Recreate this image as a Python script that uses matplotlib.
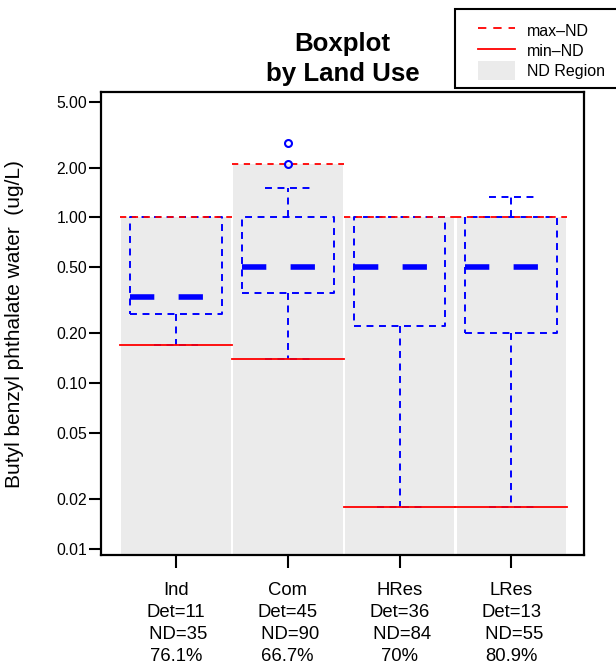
import matplotlib
matplotlib.use("Agg")
import matplotlib.pyplot as plt
from matplotlib.lines import Line2D
from matplotlib.patches import Patch, Rectangle

plt.rcParams['font.family'] = ['Liberation Sans', 'DejaVu Sans']
plt.rcParams['lines.scale_dashes'] = False

# ---- data ----
categories = ["Ind", "Com", "HRes", "LRes"]
det_counts = [11, 45, 36, 13]
nd_counts = [35, 90, 84, 55]
nd_pct = ["76.1%", "66.7%", "70%", "80.9%"]
max_nd = [1.0, 2.1, 1.0, 1.0]
min_nd = [0.17, 0.14, 0.018, 0.018]
q1 = [0.26, 0.35, 0.22, 0.20]
median = [0.33, 0.50, 0.50, 0.50]
q3 = [1.0, 1.0, 1.0, 1.0]
whisker_lo = [0.17, 0.14, 0.018, 0.018]
whisker_hi = [1.0, 1.5, 1.0, 1.33]
outliers = [[], [2.1, 2.8], [], []]
ytick_vals = [0.01, 0.02, 0.05, 0.10, 0.20, 0.50, 1.00, 2.00, 5.00]
ytick_labels = ["0.01", "0.02", "0.05", "0.10", "0.20", "0.50", "1.00", "2.00", "5.00"]

BLUE = "#0000FF"
RED = "#FF0000"
GREY = "#EBEBEB"

W, H = 616, 672
fig = plt.figure(figsize=(W / 100, H / 100), dpi=100)
ax = fig.add_axes([101 / W, 1 - 555 / H, (584 - 101) / W, (555 - 92.5) / H])
ax.set_yscale('log')
ax.set_ylim(0.0092, 5.67)
ax.set_xlim(0.33, 4.65)

pos = list(range(1, len(categories) + 1))

# ND region bars
ax.bar(pos, [m - 0.001 for m in max_nd], bottom=0.001, width=0.98,
       color=GREY, edgecolor='none', zorder=1)

box_half = 0.41
cap_half = 0.2
box_dash = (5.0, 4.0)
for x, a, m, b, lo, hi in zip(pos, q1, median, q3, whisker_lo, whisker_hi):
    ax.plot([x - box_half, x + box_half, x + box_half, x - box_half, x - box_half],
            [a, a, b, b, a], color=BLUE, lw=1.4, linestyle=(0, box_dash),
            dash_capstyle='butt', zorder=3)
    ax.plot([x - box_half, x + box_half], [m, m], color=BLUE, lw=4.0,
            linestyle=(0, (17.5, 17.5)), dash_capstyle='butt', zorder=4)
    if lo < a:
        ax.plot([x, x], [a, lo], color=BLUE, lw=1.4, linestyle=(0, box_dash),
                dash_capstyle='butt', zorder=3)
        ax.plot([x - cap_half, x + cap_half], [lo, lo], color=BLUE, lw=1.4,
                linestyle=(0, box_dash), dash_capstyle='butt', zorder=3)
    if hi > b:
        ax.plot([x, x], [b, hi], color=BLUE, lw=1.4, linestyle=(0, box_dash),
                dash_capstyle='butt', zorder=3)
        ax.plot([x - cap_half, x + cap_half], [hi, hi], color=BLUE, lw=1.4,
                linestyle=(0, box_dash), dash_capstyle='butt', zorder=3)

for x, mx, mn in zip(pos, max_nd, min_nd):
    ax.plot([x - 0.5, x + 0.5], [mx, mx], color=RED, lw=1.3,
            linestyle=(0, (4.5, 4.0)), dash_capstyle='butt', zorder=5)
    ax.plot([x - 0.5, x + 0.5], [mn, mn], color=RED, lw=1.3, zorder=5)

for x, outs in zip(pos, outliers):
    if outs:
        ax.plot([x] * len(outs), outs, linestyle='none', marker='o', ms=5,
                mfc='none', mec=BLUE, mew=1.5, zorder=6)

ax.set_yticks(ytick_vals)
ax.set_yticklabels(ytick_labels)
ax.yaxis.set_minor_locator(matplotlib.ticker.NullLocator())
ax.set_xticks(pos)
ax.set_xticklabels([f"{c}\nDet={d}\n ND={n}\n{p}" for c, d, n, p in
                    zip(categories, det_counts, nd_counts, nd_pct)],
                   linespacing=1.39)
ax.tick_params(axis='y', length=9, width=1.5, pad=1, labelsize=11.3)
ax.tick_params(axis='x', length=9, width=1.5, pad=10.5, labelsize=13.3)
for s in ax.spines.values():
    s.set_linewidth(1.6)

ax.set_ylabel("Butyl benzyl phthalate water  (ug/L)", fontsize=15)
ax.yaxis.set_label_coords(-0.159, 0.5)

fig.text(342.5 / W, 1 - 59 / H, "Boxplot\nby Land Use", ha='center', va='center',
         fontsize=18.6, fontweight='bold', linespacing=1.3)

# legend frame
fig.add_artist(Rectangle((455 / W, 1 - 88 / H), (625 - 455) / W, (88 - 9) / H,
                         transform=fig.transFigure, facecolor='white',
                         edgecolor='black', lw=1.5, zorder=10))
handles = [Line2D([0], [0], color=RED, lw=1.3, linestyle=(0, (6, 5))),
           Line2D([0], [0], color=RED, lw=1.3),
           Patch(facecolor=GREY, edgecolor='none')]
leg = fig.legend(handles, ["max\u2013ND", "min\u2013ND", "ND Region"],
                 loc='upper left', bbox_to_anchor=(478 / W, 1 - 21 / H),
                 bbox_transform=fig.transFigure, fontsize=11.5, frameon=False,
                 handlelength=2.3, handleheight=1.45, labelspacing=0.08,
                 borderpad=0, handletextpad=0.75, borderaxespad=0)
leg.set_zorder(11)

fig.savefig("out.png", dpi=100)
